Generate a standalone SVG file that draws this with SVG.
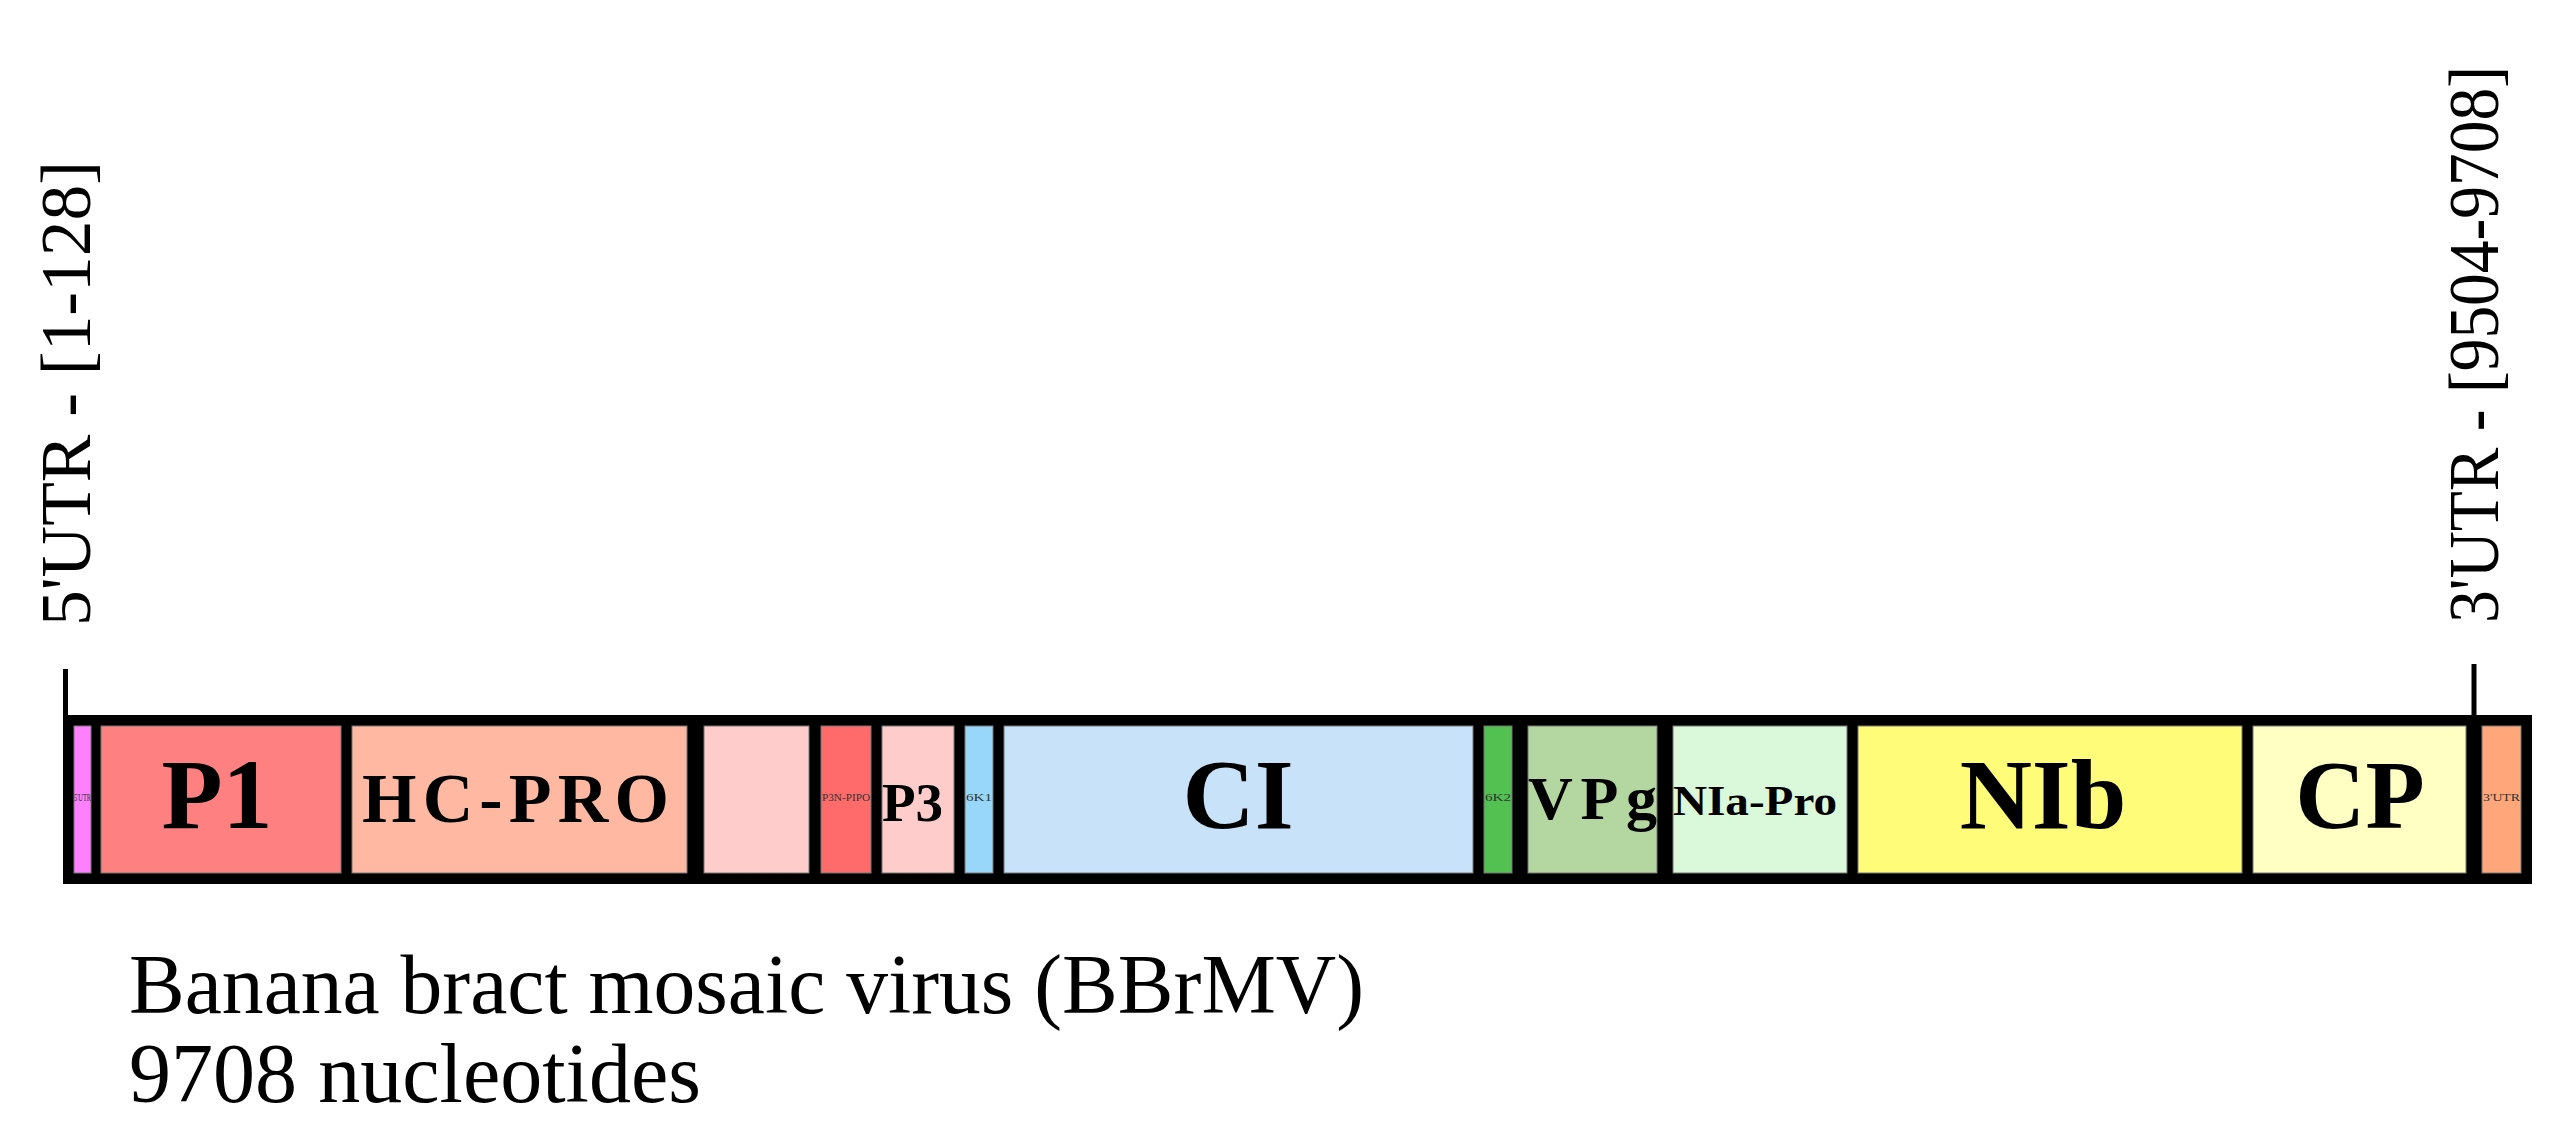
<svg xmlns="http://www.w3.org/2000/svg" width="2573" height="1138" viewBox="0 0 2573 1138">
<style>
.seg{stroke:#777;stroke-width:1}
.lbl{font-family:"Liberation Serif","Times New Roman",serif;font-weight:bold;fill:#000}
.tiny{font-family:"Liberation Serif","Times New Roman",serif;font-size:11px;fill:#333;text-anchor:middle}
.cap{font-family:"Liberation Serif","Times New Roman",serif;fill:#000}
.tick{stroke:#000;stroke-width:5;fill:none}
</style>
<rect width="2573" height="1138" fill="#fff"/>
<g id="connectors">
<line class="tick" x1="65.5" y1="669" x2="65.5" y2="716"/>
<line class="tick" x1="2474" y1="664" x2="2474" y2="716"/>
</g>
<g id="utr5-label">
<text class="cap" font-size="72" transform="translate(90,626) rotate(-90)" textLength="465" lengthAdjust="spacingAndGlyphs">5'UTR - [1-128]</text>
</g>
<g id="utr3-label">
<text class="cap" font-size="72" transform="translate(2498,623) rotate(-90)" textLength="557" lengthAdjust="spacingAndGlyphs">3'UTR - [9504-9708]</text>
</g>
<g id="genome">
<rect x="63" y="715" width="2469" height="169" fill="#000"/>
</g>
<g id="seg-5utr"><rect class="seg" x="74" y="726" width="17" height="147" fill="#FF80FF"/><text class="tiny" x="82.5" y="801" textLength="17" lengthAdjust="spacingAndGlyphs">5'UTR</text></g>
<g id="seg-p1"><rect class="seg" x="101" y="726" width="240" height="147" fill="#FF8080"/><text class="lbl" font-size="100" x="217" y="828" text-anchor="middle">P1</text></g>
<g id="seg-hcpro"><rect class="seg" x="352" y="726" width="335" height="147" fill="#FFB9A3"/><text class="lbl" font-size="70" x="362" y="822" textLength="307" lengthAdjust="spacing">HC-PRO</text></g>
<g id="seg-p3a"><rect class="seg" x="704" y="726" width="105" height="147" fill="#FFCCCC"/></g>
<g id="seg-pipo"><rect class="seg" x="821" y="726" width="50" height="147" fill="#FF6B6B"/><text class="tiny" x="846" y="801" textLength="48" lengthAdjust="spacingAndGlyphs">P3N-PIPO</text></g>
<g id="seg-p3"><rect class="seg" x="882" y="726" width="72" height="147" fill="#FFCCCC"/><text class="lbl" font-size="55" x="882" y="821" textLength="61" lengthAdjust="spacing">P3</text></g>
<g id="seg-6k1"><rect class="seg" x="965" y="726" width="28" height="147" fill="#99D7FA"/><text class="tiny" x="979" y="801" textLength="26" lengthAdjust="spacingAndGlyphs">6K1</text></g>
<g id="seg-ci"><rect class="seg" x="1004" y="726" width="469" height="147" fill="#C8E2FA"/><text class="lbl" font-size="100" x="1238" y="828" text-anchor="middle">CI</text></g>
<g id="seg-6k2"><rect class="seg" x="1484" y="726" width="28" height="147" fill="#52C152"/><text class="tiny" x="1498" y="801" textLength="26" lengthAdjust="spacingAndGlyphs">6K2</text></g>
<g id="seg-vpg"><rect class="seg" x="1528" y="726" width="129" height="147" fill="#B4D6A0"/><text class="lbl" font-size="62" x="1528" y="819" textLength="129" lengthAdjust="spacing">VPg</text></g>
<g id="seg-niapro"><rect class="seg" x="1673" y="726" width="174" height="147" fill="#DAF8DA"/><text class="lbl" font-size="42" x="1673" y="815" textLength="164" lengthAdjust="spacingAndGlyphs">NIa-Pro</text></g>
<g id="seg-nib"><rect class="seg" x="1858" y="726" width="384" height="147" fill="#FFFC7A"/><text class="lbl" font-size="100" x="2043" y="828" text-anchor="middle">NIb</text></g>
<g id="seg-cp"><rect class="seg" x="2253" y="726" width="213" height="147" fill="#FFFFC4"/><text class="lbl" font-size="97" x="2360" y="828" text-anchor="middle">CP</text></g>
<g id="seg-3utr"><rect class="seg" x="2482" y="726" width="39" height="147" fill="#FFA67A"/><text class="tiny" x="2501.5" y="801" textLength="37" lengthAdjust="spacingAndGlyphs">3'UTR</text></g>
<g id="caption">
<text class="cap" font-size="85" x="129" y="1013" textLength="1235" lengthAdjust="spacingAndGlyphs">Banana bract mosaic virus (BBrMV)</text>
<text class="cap" font-size="85" x="129" y="1102" textLength="572" lengthAdjust="spacingAndGlyphs">9708 nucleotides</text>
</g>
</svg>
